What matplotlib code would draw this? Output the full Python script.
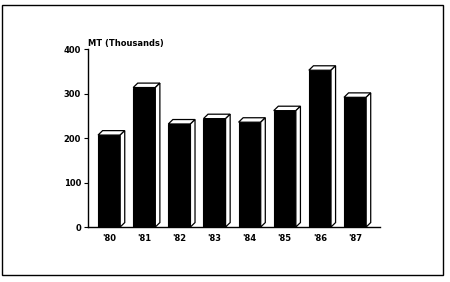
import matplotlib
matplotlib.use('Agg')
import matplotlib.pyplot as plt
from matplotlib.patches import Polygon, Rectangle

years = ["'80", "'81", "'82", "'83", "'84", "'85", "'86", "'87"]
mt_thousands = [207, 314, 232, 244, 236, 262, 353, 292]
y_ticks = [0, 100, 200, 300, 400]

fig = plt.figure(figsize=(4.5, 2.82), dpi=100)
ax = fig.add_axes([0.1956, 0.195, 0.6489, 0.630])

w = 0.63      # bar width
dx = 0.13     # depth of 3D effect (x, data units)
dy = 10       # depth of 3D effect (y, data units)

xs = list(range(len(years)))
ax.bar(xs, mt_thousands, width=w, color='black', edgecolor='black', linewidth=0.8, zorder=2)
for x, v in zip(xs, mt_thousands):
    xl, xr = x - w/2, x + w/2
    # top face
    top = Polygon([(xl, v), (xl+dx, v+dy), (xr+dx, v+dy), (xr, v)],
                  closed=True, facecolor='white', edgecolor='black', linewidth=0.9, zorder=3)
    # side face
    side = Polygon([(xr, 0), (xr+dx, dy), (xr+dx, v+dy), (xr, v)],
                   closed=True, facecolor='white', edgecolor='black', linewidth=0.9, zorder=3)
    ax.add_patch(top)
    ax.add_patch(side)

ax.set_xlim(-0.6, 7.71)
ax.set_ylim(0, 400)
ax.set_xticks(xs)
ax.set_xticklabels(years, fontsize=6, fontweight='bold')
ax.set_yticks(y_ticks)
ax.set_yticklabels([str(t) for t in y_ticks], fontsize=6, fontweight='bold')
ax.tick_params(axis='x', length=0, pad=5)
ax.tick_params(axis='y', length=3, width=0.8, pad=2)
for s in ['top', 'right']:
    ax.spines[s].set_visible(False)
for s in ['left', 'bottom']:
    ax.spines[s].set_linewidth(1.0)
    ax.spines[s].set_zorder(4)

fig.text(88/450, 1 - 43/282, 'MT (Thousands)', fontsize=6, fontweight='bold', va='center', ha='left')

# outer frame
fig.patches.append(Rectangle((2/450, 1 - 275/282), 441/450, 270/282, transform=fig.transFigure,
                             fill=False, edgecolor='black', linewidth=1.0))

fig.savefig('out.png', dpi=100)
